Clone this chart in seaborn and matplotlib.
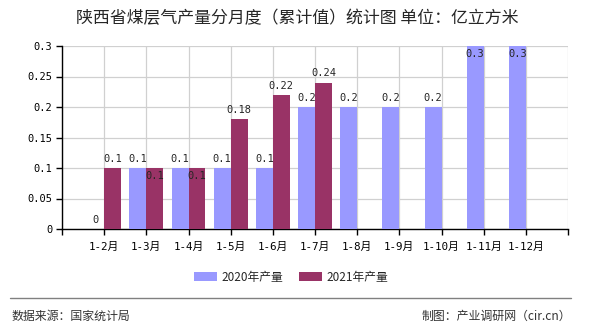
import numpy as np
import pandas as pd
import matplotlib
matplotlib.use("Agg")
import matplotlib.pyplot as plt
from matplotlib.patches import Patch
import seaborn as sns

months = ["1-2月", "1-3月", "1-4月", "1-5月", "1-6月", "1-7月", "1-8月", "1-9月", "1-10月", "1-11月", "1-12月"]
prod_2020 = [0, 0.1, 0.1, 0.1, 0.1, 0.2, 0.2, 0.2, 0.2, 0.3, 0.3]
prod_2021 = [0.1, 0.1, 0.1, 0.18, 0.22, 0.24, np.nan, np.nan, np.nan, np.nan, np.nan]
series_names = ["2020年产量", "2021年产量"]
colors = ["#9999FF", "#993366"]
yticks = [0, 0.05, 0.1, 0.15, 0.2, 0.25, 0.3]
ytick_labels = ["0", "0.05", "0.1", "0.15", "0.2", "0.25", "0.3"]

sns.set_theme(style="white")
plt.rcParams['font.family'] = ['Noto Sans CJK SC', 'DejaVu Sans']
MONO = ['DejaVu Sans Mono', 'Noto Sans CJK SC']

df = pd.DataFrame({
    "month": months * 2,
    "value": prod_2020 + prod_2021,
    "series": [series_names[0]] * len(months) + [series_names[1]] * len(months),
})

fig = plt.figure(figsize=(5.9, 3.3), dpi=100)
W, H = 590, 330
ax = fig.add_axes([62 / W, (H - 229) / H, (568 - 62) / W, (229 - 46) / H])

sns.barplot(data=df, x="month", y="value", hue="series", order=months,
            hue_order=series_names, palette=colors, width=0.8, saturation=1,
            errorbar=None, ax=ax, legend=False, zorder=3,
            linewidth=0, edgecolor="none")

ax.set_xlim(-1, len(months))
ax.set_ylim(0, 0.3)
ax.set_xticks(range(-1, len(months) + 1))
ax.set_xticklabels([""] + months + [""], fontsize=7.8, family=MONO)
ax.set_yticks(yticks)
ax.set_yticklabels(ytick_labels, fontsize=7.5, family=MONO)
ax.set_xlabel("")
ax.set_ylabel("")
ax.grid(True, color="#d0d0d0", linewidth=0.9, zorder=0)
ax.set_axisbelow(True)
for s in ["top", "right"]:
    ax.spines[s].set_visible(False)
for s in ["left", "bottom"]:
    ax.spines[s].set_color("black")
    ax.spines[s].set_linewidth(1.0)
ax.tick_params(axis="both", which="both", length=4, width=1, color="black",
               direction="out", pad=3, labelcolor="black")
ax.tick_params(axis="x", bottom=True, pad=5)
ax.tick_params(axis="y", left=True)


def fmt(v):
    return "%g" % round(v, 2)


# value labels
for i in range(len(months)):
    a = prod_2020[i]
    b = prod_2021[i]
    if not np.isnan(a):
        inside = a >= 0.3
        ax.annotate(fmt(a), (i - 0.2, a), xytext=(0, -2 if inside else 3),
                    textcoords="offset points", ha="center",
                    va="top" if inside else "bottom", fontsize=7.5,
                    family=MONO, zorder=5)
    if not np.isnan(b):
        inside = (a == b)
        ax.annotate(fmt(b), (i + 0.2, b), xytext=(0, -2 if inside else 3),
                    textcoords="offset points", ha="center",
                    va="top" if inside else "bottom", fontsize=7.5,
                    family=MONO, zorder=5)

fig.text(297 / W, 1 - 18 / H, "陕西省煤层气产量分月度（累计值）统计图 单位：亿立方米",
         ha="center", va="center", fontsize=12.2)

# legend
handles = [Patch(facecolor=c, edgecolor="none") for c in colors]
fig.legend(handles, series_names, loc="center", bbox_to_anchor=(291 / W, 1 - 277 / H),
           ncol=2, frameon=False, fontsize=8.5, handlelength=2.0, handleheight=0.8,
           columnspacing=1.3, handletextpad=0.35, borderpad=0)

fig.add_artist(plt.Line2D([10 / W, 571 / W], [1 - 298 / H, 1 - 298 / H],
                          color="#808080", linewidth=1))
fig.text(11 / W, 1 - 316 / H, "数据来源：国家统计局", ha="left", va="center",
         fontsize=8.6, color="#333333")
fig.text(571 / W, 1 - 316 / H, "制图：产业调研网（cir.cn）", ha="right", va="center",
         fontsize=8.6, color="#333333")

fig.savefig("out.png", dpi=100)
